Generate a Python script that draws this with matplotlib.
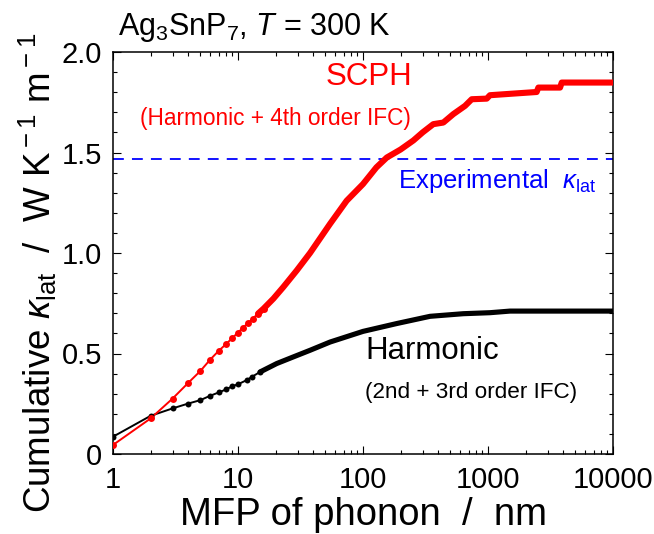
import matplotlib
matplotlib.use("Agg")
import matplotlib.pyplot as plt
from matplotlib.ticker import LogLocator, MultipleLocator, FixedLocator, NullFormatter

plt.rcParams['font.family'] = ['Liberation Sans', 'DejaVu Sans']
plt.rcParams['mathtext.fontset'] = 'custom'
plt.rcParams['mathtext.rm'] = 'Liberation Sans'
plt.rcParams['mathtext.it'] = 'Liberation Sans:italic'
plt.rcParams['mathtext.bf'] = 'Liberation Sans:bold'

# ---------------- data ----------------
scph_mfp = [1, 2, 3, 4, 5, 6, 7, 8, 9, 10, 11, 12, 13.1, 14.5, 16, 19.2, 23, 29.5,
            37.7, 54.5, 74, 100, 128, 155, 200, 253, 300, 365, 439, 528, 655, 741,
            977, 1037, 1590, 2450, 2530, 3770, 3890, 10000]
scph_kappa = [0.045, 0.177, 0.276, 0.354, 0.413, 0.470, 0.513, 0.546, 0.577, 0.604,
              0.629, 0.651, 0.673, 0.699, 0.723, 0.773, 0.830, 0.913,
              1.000, 1.145, 1.260, 1.343, 1.426, 1.475, 1.515, 1.560, 1.600, 1.641,
              1.649, 1.691, 1.732, 1.765, 1.768, 1.785, 1.793, 1.801, 1.823, 1.823,
              1.848, 1.848]

harm_mfp = [1, 2, 3, 4, 5, 6, 7, 8, 9, 10, 11.7, 13, 15, 20.4, 27.7, 37.7, 54.5,
            100, 186, 344, 634, 1037, 1500, 10000]
harm_kappa = [0.086, 0.190, 0.227, 0.251, 0.268, 0.290, 0.306, 0.321, 0.337, 0.347,
              0.367, 0.385, 0.408, 0.450, 0.483, 0.516, 0.557,
              0.610, 0.649, 0.685, 0.698, 0.703, 0.711, 0.711]

exp_kappa = 1.47
x_ticks = [1, 10, 100, 1000, 10000]
x_ticklabels = ['1', '10', '100', '1000', '10000']
y_ticks = [0, 0.5, 1.0, 1.5, 2.0]
y_ticklabels = ['0', '0.5', '1.0', '1.5', '2.0']

# ---------------- figure ----------------
fig = plt.figure(figsize=(6.54, 5.34), dpi=100)
ax = fig.add_axes([113/654, 1-454/534, 500/654, 402/534])

SPARSE = 16  # beyond this MFP the markers merge into a thick band

def draw(xs, ys, color, ms, band_lw):
    ax.plot(xs, ys, '-', color=color, lw=1.4, zorder=3)
    sx = [x for x in xs if x <= SPARSE]
    sy = [y for x, y in zip(xs, ys) if x <= SPARSE]
    ax.plot(sx, sy, 'o', color=color, ms=ms, mew=0, zorder=4)
    dx = [x for x in xs if x >= SPARSE * 0.9]
    dy = [y for x, y in zip(xs, ys) if x >= SPARSE * 0.9]
    ax.plot(dx, dy, '-', color=color, lw=band_lw, solid_capstyle='round',
            solid_joinstyle='round', zorder=4)

draw(harm_mfp, harm_kappa, 'black', 4.3, 3.7)
draw(scph_mfp, scph_kappa, '#ff0000', 5.0, 4.4)

ax.axhline(exp_kappa, color='#0000ff', lw=1.3, dashes=(6, 4.5), zorder=2)

ax.set_xscale('log')
ax.set_xlim(1, 10000)
ax.set_ylim(0, 2.0)

ax.xaxis.set_major_locator(FixedLocator(x_ticks))
ax.set_xticklabels(x_ticklabels)
ax.xaxis.set_minor_locator(LogLocator(base=10, subs=range(2, 10), numticks=20))
ax.xaxis.set_minor_formatter(NullFormatter())
ax.yaxis.set_major_locator(FixedLocator(y_ticks))
ax.set_yticklabels(y_ticklabels)
ax.yaxis.set_minor_locator(MultipleLocator(0.1))

ax.tick_params(which='both', direction='in', top=True, right=True, width=0.8)
ax.tick_params(which='major', length=6, labelsize=21)
ax.tick_params(which='minor', length=3)
ax.tick_params(axis='x', which='major', pad=9)
ax.tick_params(axis='y', which='major', pad=8)
for s in ax.spines.values():
    s.set_linewidth(1.1)

ax.set_xlabel('MFP of phonon  /  nm', fontsize=27.5, labelpad=2)
ax.set_ylabel(r'Cumulative $\kappa_{\rm lat}$  /  W K$^{\rm -1}$ m$^{\rm -1}$',
              fontsize=26.5, va='center')
ax.yaxis.set_label_coords(-0.15, 0.45)

ax.text(0.01, 1.042, r'Ag$_3$SnP$_7$, $T$ = 300 K', transform=ax.transAxes,
        fontsize=22, ha='left', va='baseline')
ax.text(0.426, 0.918, 'SCPH', transform=ax.transAxes, color='#ff0000',
        fontsize=22.5, ha='left', va='baseline')
ax.text(0.054, 0.818, '(Harmonic + 4th order IFC)', transform=ax.transAxes,
        color='#ff0000', fontsize=16.3, ha='left', va='baseline')
ax.text(0.57, 0.662, r'Experimental  $\kappa_{\rm lat}$', transform=ax.transAxes,
        color='#0000ff', fontsize=18.5, ha='left', va='baseline')
ax.text(0.504, 0.236, 'Harmonic', transform=ax.transAxes, color='black',
        fontsize=22.5, ha='left', va='baseline')
ax.text(0.504, 0.139, '(2nd + 3rd order IFC)', transform=ax.transAxes,
        color='black', fontsize=16.2, ha='left', va='baseline')

fig.savefig('out.png', dpi=100)
